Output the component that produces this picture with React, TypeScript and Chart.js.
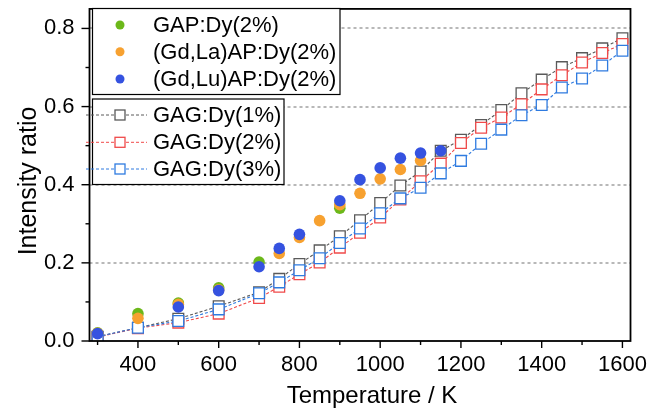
import { useEffect, useRef } from "react";
import { Chart, registerables } from "chart.js";
Chart.register(...registerables);

const FONT = "'Liberation Sans', Arial, sans-serif";

// Axis ticks
const X_TICKS = [400, 600, 800, 1000, 1200, 1400, 1600];
const X_MINOR = [300, 500, 700, 900, 1100, 1300, 1500];
const Y_TICKS = [0, 0.2, 0.4, 0.6, 0.8];
const Y_MINOR = [0.1, 0.3, 0.5, 0.7];
const GRID_Y = [0.2, 0.4, 0.6, 0.8];

// Dot series
const GAP_T = [300, 400, 500, 600, 700, 900];
const GAP_V = [0.021, 0.07, 0.097, 0.136, 0.202, 0.34];
const GDLA_T = [300, 400, 500, 600, 750, 800, 850, 900, 950, 1000, 1050, 1100];
const GDLA_V = [0.02, 0.058, 0.094, 0.131, 0.224, 0.265, 0.308, 0.349, 0.378, 0.415, 0.439, 0.462];
const GDLU_T = [300, 500, 600, 700, 750, 800, 900, 950, 1000, 1050, 1100, 1150];
const GDLU_V = [0.019, 0.087, 0.129, 0.19, 0.237, 0.273, 0.359, 0.413, 0.443, 0.468, 0.481, 0.487];

// Square series
const GAG_T = [300, 400, 500, 600, 700, 750, 800, 850, 900, 950, 1000, 1050, 1100, 1150, 1200, 1250, 1300, 1350, 1400, 1450, 1500, 1550, 1600];
const GAG1_V = [0.011, 0.034, 0.057, 0.089, 0.125, 0.159, 0.197, 0.232, 0.268, 0.309, 0.353, 0.398, 0.434, 0.487, 0.515, 0.553, 0.591, 0.634, 0.669, 0.701, 0.724, 0.749, 0.775];
const GAG2_V = [0.01, 0.033, 0.047, 0.07, 0.11, 0.139, 0.171, 0.201, 0.239, 0.277, 0.316, 0.362, 0.409, 0.454, 0.507, 0.546, 0.572, 0.606, 0.644, 0.68, 0.713, 0.737, 0.76];
const GAG3_V = [0.011, 0.034, 0.051, 0.081, 0.122, 0.15, 0.181, 0.212, 0.251, 0.288, 0.327, 0.365, 0.392, 0.429, 0.461, 0.505, 0.541, 0.578, 0.604, 0.649, 0.672, 0.705, 0.743];

const DOT_LABELS = ["GAP:Dy(2%)", "(Gd,La)AP:Dy(2%)", "(Gd,Lu)AP:Dy(2%)"];
const DOT_COLORS = ["#6cb81a", "#f7a130", "#3552e0"];
const SQ_LABELS = ["GAG:Dy(1%)", "GAG:Dy(2%)", "GAG:Dy(3%)"];
const SQ_COLORS = ["#5a5a5a", "#f04a4a", "#2f7be0"];

const X_TITLE = "Temperature / K";
const Y_TITLE = "Intensity ratio";

const pts = (xs: number[], ys: number[]) => xs.map((x, i) => ({ x, y: ys[i] }));

const originPlugin = {
  id: "origin",
  beforeDatasetsDraw(chart: any) {
    const { ctx, chartArea: a, scales } = chart;
    const y = scales.y;
    ctx.save();
    ctx.strokeStyle = "#b8b8b8";
    ctx.lineWidth = 2;
    ctx.setLineDash([3, 3]);
    for (const v of GRID_Y) {
      const py = Math.round(y.getPixelForValue(v));
      ctx.beginPath();
      ctx.moveTo(a.left, py);
      ctx.lineTo(a.right, py);
      ctx.stroke();
    }
    ctx.restore();
  },
  afterDraw(chart: any) {
    const { ctx, chartArea: a, scales } = chart;
    const x = scales.x;
    const y = scales.y;
    ctx.save();
    // frame
    ctx.strokeStyle = "#000";
    ctx.lineWidth = 1.8;
    ctx.setLineDash([]);
    ctx.strokeRect(a.left, a.top, a.right - a.left, a.bottom - a.top);
    // ticks
    ctx.lineWidth = 1.4;
    const tick = (x1: number, y1: number, x2: number, y2: number) => {
      ctx.beginPath();
      ctx.moveTo(x1, y1);
      ctx.lineTo(x2, y2);
      ctx.stroke();
    };
    for (const v of X_TICKS) { const px = x.getPixelForValue(v); tick(px, a.bottom, px, a.bottom + 7); }
    for (const v of X_MINOR) { const px = x.getPixelForValue(v); tick(px, a.bottom, px, a.bottom + 4); }
    for (const v of Y_TICKS) { const py = y.getPixelForValue(v); tick(a.left, py, a.left - 8, py); }
    for (const v of Y_MINOR) { const py = y.getPixelForValue(v); tick(a.left, py, a.left - 4, py); }

    // axis titles
    ctx.fillStyle = "#000";
    ctx.font = `24px ${FONT}`;
    ctx.textAlign = "center";
    ctx.textBaseline = "alphabetic";
    ctx.fillText(X_TITLE, 372, 403);
    ctx.save();
    ctx.translate(36, 181);
    ctx.rotate(-Math.PI / 2);
    ctx.font = `25px ${FONT}`;
    ctx.fillText(Y_TITLE, 0, 0);
    ctx.restore();

    // legend 1 (dots)
    ctx.font = `22px ${FONT}`;
    ctx.textAlign = "left";
    ctx.textBaseline = "middle";
    ctx.fillStyle = "#fff";
    ctx.fillRect(92.5, 8.5, 247.5, 86);
    ctx.lineWidth = 1.2;
    ctx.strokeStyle = "#000";
    ctx.strokeRect(92.5, 8.5, 247.5, 86);
    const rows1 = [25, 51.7, 79];
    DOT_LABELS.forEach((lab, i) => {
      ctx.fillStyle = DOT_COLORS[i];
      ctx.beginPath();
      ctx.arc(120, rows1[i], 4.5, 0, Math.PI * 2);
      ctx.fill();
      ctx.fillStyle = "#000";
      ctx.fillText(lab, 153, rows1[i] + 1);
    });

    // legend 2 (squares)
    ctx.fillStyle = "#fff";
    ctx.fillRect(92.5, 99, 191.5, 85.5);
    ctx.strokeStyle = "#000";
    ctx.lineWidth = 1.2;
    ctx.strokeRect(92.5, 99, 191.5, 85.5);
    const rows2 = [115, 142.3, 169];
    SQ_LABELS.forEach((lab, i) => {
      ctx.strokeStyle = SQ_COLORS[i];
      ctx.lineWidth = 1;
      ctx.setLineDash([3, 2]);
      tick(86, rows2[i], 147, rows2[i]);
      ctx.setLineDash([]);
      ctx.fillStyle = "#fff";
      ctx.fillRect(115, rows2[i] - 5, 10, 10);
      ctx.lineWidth = 1.3;
      ctx.strokeRect(115, rows2[i] - 5, 10, 10);
      ctx.fillStyle = "#000";
      ctx.fillText(lab, 153, rows2[i] + 1);
    });
    ctx.restore();
  },
};

export default function App() {
  const ref = useRef<HTMLCanvasElement>(null);
  useEffect(() => {
    const sq = (i: number, ys: number[], order: number) => ({
      label: SQ_LABELS[i],
      data: pts(GAG_T, ys),
      showLine: true,
      borderColor: SQ_COLORS[i],
      borderWidth: 1.1,
      borderDash: [3, 2],
      pointStyle: "rect",
      pointRadius: 7.6,
      pointBorderWidth: 1.3,
      pointBorderColor: SQ_COLORS[i],
      pointBackgroundColor: "#fff",
      order,
    });
    const dot = (i: number, xs: number[], ys: number[], order: number) => ({
      label: DOT_LABELS[i],
      data: pts(xs, ys),
      showLine: false,
      pointStyle: "circle",
      pointRadius: 5.8,
      pointBorderWidth: 0,
      pointBackgroundColor: DOT_COLORS[i],
      pointBorderColor: DOT_COLORS[i],
      order,
    });
    const chart = new Chart(ref.current as HTMLCanvasElement, {
      type: "scatter",
      data: {
        datasets: [
          dot(0, GAP_T, GAP_V, 3),
          dot(1, GDLA_T, GDLA_V, 2),
          dot(2, GDLU_T, GDLU_V, 1),
          sq(0, GAG1_V, 6),
          sq(1, GAG2_V, 5),
          sq(2, GAG3_V, 4),
        ] as any,
      },
      options: {
        responsive: false,
        animation: false,
        events: [],
        layout: { padding: { top: 4.5, right: 31.5, left: 0, bottom: 0 } },
        plugins: { legend: { display: false }, tooltip: { enabled: false } },
        scales: {
          x: {
            type: "linear",
            min: 280,
            max: 1620,
            afterBuildTicks: (s: any) => { s.ticks = X_TICKS.map((v) => ({ value: v })); },
            afterFit: (s: any) => { s.height = 73; s.paddingLeft = 0; s.paddingRight = 0; },
            grid: { display: false, drawTicks: false },
            border: { display: false },
            ticks: {
              padding: 11,
              color: "#000",
              font: { size: 22, family: FONT },
              maxRotation: 0,
              autoSkip: false,
              callback: (v: any) => String(v),
            },
          },
          y: {
            type: "linear",
            min: 0,
            max: 0.85,
            afterBuildTicks: (s: any) => { s.ticks = Y_TICKS.map((v) => ({ value: v })); },
            afterFit: (s: any) => { s.width = 89.5; s.paddingTop = 0; s.paddingBottom = 0; },
            grid: { display: false, drawTicks: false },
            border: { display: false },
            ticks: {
              padding: 15,
              color: "#000",
              font: { size: 22, family: FONT },
              autoSkip: false,
              callback: (v: any) => Number(v).toFixed(1),
            },
          },
        },
      } as any,
      plugins: [originPlugin],
    });
    return () => chart.destroy();
  }, []);
  return (
    <div style={{ position: "fixed", left: 0, top: 0, width: 662, height: 414, background: "#fff" }}>
      <canvas ref={ref} width={662} height={414} style={{ display: "block" }} />
    </div>
  );
}
